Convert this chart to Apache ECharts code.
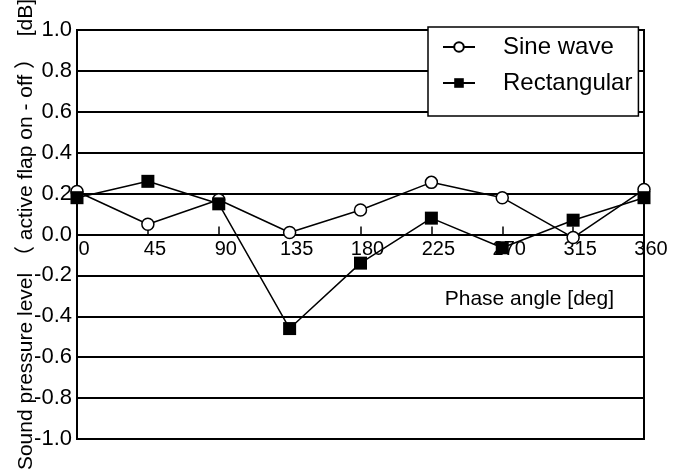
<!DOCTYPE html>
<html>
<head>
<meta charset="utf-8">
<script src="https://cdn.jsdelivr.net/npm/echarts@6/dist/echarts.min.js"></script>
<style>html,body{margin:0;padding:0;background:#fff}#c{width:685px;height:476px}</style>
</head>
<body>
<div id="c"></div>
<script>
const phaseAngles = [0, 45, 90, 135, 180, 225, 270, 315, 360];
const sineWave = [0.21, 0.05, 0.17, 0.01, 0.12, 0.255, 0.18, -0.015, 0.22];
const rectangular = [0.18, 0.26, 0.15, -0.46, -0.14, 0.08, -0.065, 0.07, 0.18];
const seriesNames = ['Sine wave', 'Rectangular'];
const xAxisTitle = 'Phase angle [deg]';
const yAxisTitle = 'Sound pressure level （ active flap on - off ）  [dB]';

const FONT = '"Liberation Sans", Arial, "Noto Sans CJK SC", sans-serif';
const GRID = { left: 77, right: 41, top: 30, bottom: 37 };
const plotH = 476 - GRID.top - GRID.bottom;
const chart = echarts.init(document.getElementById('c'));
chart.setOption({
  animation: false,
  backgroundColor: '#fff',
  grid: Object.assign({ show: true, borderColor: '#000', borderWidth: 2, containLabel: false, outerBoundsMode: 'none' }, GRID),
  legend: {
    orient: 'vertical', left: 428, top: 27,
    padding: [8, 6, 21, 14], itemGap: 12,
    itemWidth: 32, itemHeight: 12,
    backgroundColor: '#fff', borderColor: '#000', borderWidth: 1.5, borderRadius: 0,
    textStyle: { fontFamily: FONT, fontSize: 24, lineHeight: 24, color: '#000', padding: [0, 0, 0, 23] },
    data: seriesNames
  },
  xAxis: {
    type: 'value', min: 0, max: 360, interval: 45,
    position: 'bottom', offset: -plotH / 2,
    name: xAxisTitle, nameLocation: 'end', nameGap: -30, nameMoveOverlap: false,
    nameTextStyle: { fontFamily: FONT, fontSize: 21, color: '#000', align: 'right', verticalAlign: 'top', padding: [54, 0, 0, 0] },
    axisLine: { onZero: false, lineStyle: { color: '#000', width: 2 } },
    axisTick: { inside: true, length: 8, lineStyle: { color: '#000', width: 1.5 } },
    axisLabel: { fontFamily: FONT, fontSize: 20, color: '#000', margin: 5, padding: [0, 0, 0, 14], hideOverlap: false },
    splitLine: { show: false }
  },
  yAxis: {
    type: 'value', min: -1, max: 1, interval: 0.2,
    name: yAxisTitle, nameLocation: 'middle', nameGap: 40, nameRotate: 90, nameMoveOverlap: false,
    nameTextStyle: { fontFamily: FONT, fontSize: 21, color: '#000' },
    axisLine: { show: true, lineStyle: { color: '#000', width: 2 } },
    axisTick: { show: false },
    axisLabel: { fontFamily: FONT, fontSize: 22, color: '#000', margin: 5, formatter: v => v.toFixed(1) },
    splitLine: { show: true, lineStyle: { color: '#000', width: 2 } }
  },
  series: [
    {
      name: seriesNames[0], type: 'line',
      data: phaseAngles.map((x, i) => [x, sineWave[i]]),
      symbol: 'circle', symbolSize: 12, showAllSymbol: true,
      lineStyle: { color: '#000', width: 1.5 },
      itemStyle: { color: '#fff', borderColor: '#000', borderWidth: 1.5 }
    },
    {
      name: seriesNames[1], type: 'line',
      data: phaseAngles.map((x, i) => [x, rectangular[i]]),
      symbol: 'rect', symbolSize: 13, showAllSymbol: true,
      lineStyle: { color: '#000', width: 1.5 },
      itemStyle: { color: '#000', borderColor: '#000', borderWidth: 0 }
    }
  ]
});
</script>
</body>
</html>
